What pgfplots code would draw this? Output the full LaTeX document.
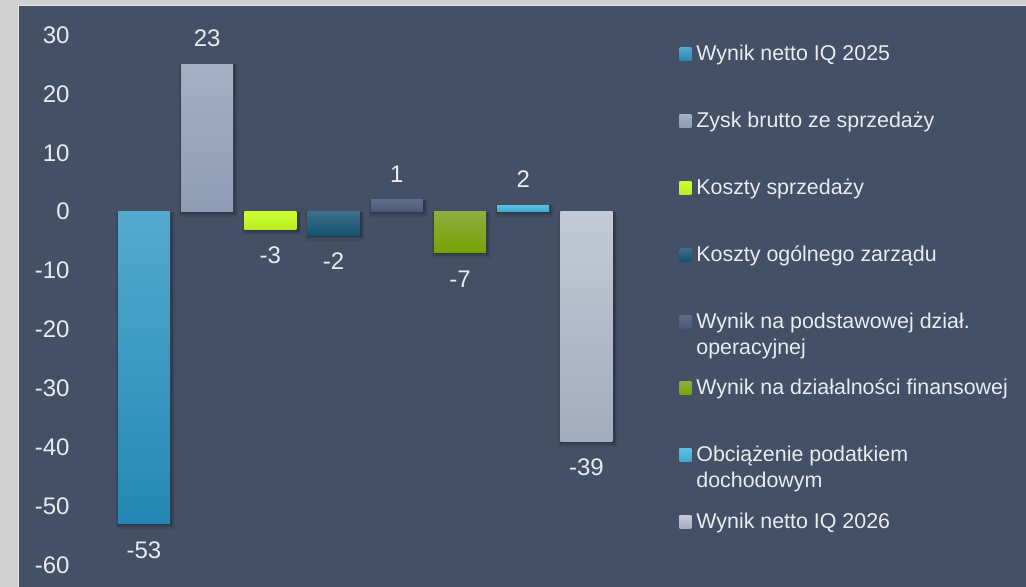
\documentclass[border=0pt]{standalone}
\usepackage{fontspec}
\setmainfont{Liberation Sans}
\usepackage{pgfplots}
\pgfplotsset{compat=1.18}

\definecolor{outergray}{RGB}{208,208,208}
\definecolor{innerline}{RGB}{232,232,232}
\definecolor{bg}{RGB}{67,80,102}
\definecolor{labelc}{RGB}{232,235,240}
\definecolor{cAt}{RGB}{85,169,207}\definecolor{cAb}{RGB}{35,136,180}
\definecolor{cBt}{RGB}{163,176,198}\definecolor{cBb}{RGB}{142,156,181}
\definecolor{cCt}{RGB}{204,255,51}\definecolor{cCb}{RGB}{187,238,34}
\definecolor{cDt}{RGB}{63,112,137}\definecolor{cDb}{RGB}{18,82,112}
\definecolor{cEt}{RGB}{94,110,137}\definecolor{cEb}{RGB}{74,88,117}
\definecolor{cFt}{RGB}{140,174,63}\definecolor{cFb}{RGB}{118,163,0}
\definecolor{cGt}{RGB}{94,192,224}\definecolor{cGb}{RGB}{58,168,208}
\definecolor{cHt}{RGB}{195,202,214}\definecolor{cHb}{RGB}{162,172,190}

\pgfplotsset{
  mybar/.style={ybar, bar width=26pt, bar shift=0pt, draw=none, forget plot,
    point meta=explicit symbolic, nodes near coords={\pgfplotspointmeta},
    every node near coord/.append style={font=\fontsize{12}{14}\selectfont, text=labelc, inner sep=0pt}},
  pos/.style={every node near coord/.append style={anchor=center, yshift=13pt}},
  neg/.style={every node near coord/.append style={anchor=center, yshift=-13pt}},
  legsq/.style={legend image code/.code={\fill[##1, draw=none] (0pt,0pt) rectangle (6pt,6.5pt);}},
  shadowlayer/.style n args={3}{ybar, bar shift=0.6pt, bar width=#1, fill=black, fill opacity=#3,
    draw=none, forget plot, y filter/.expression={y<=0 ? y-#2 : y}},
}
\newcommand\shadowbar[2]{%
  \addplot[shadowlayer={27pt}{0.25}{0.14}] coordinates {(#1,#2)};
  \addplot[shadowlayer={28pt}{0.55}{0.10}] coordinates {(#1,#2)};
  \addplot[shadowlayer={29.5pt}{0.9}{0.07}] coordinates {(#1,#2)};}

\begin{document}
\begin{tikzpicture}
\useasboundingbox (0pt,0pt) rectangle (513pt,-293.5pt);
\fill[outergray] (0pt,0pt) rectangle (513pt,-293.5pt);
\fill[innerline] (9pt,-2.75pt) rectangle (513pt,-293.5pt);
\fill[bg] (9.5pt,-3.25pt) rectangle (513pt,-293.5pt);
\begin{axis}[
  at={(37.5pt,-17.5pt)}, anchor=north west,
  scale only axis, width=475.5pt, height=265pt,
  xmin=-1.0918, xmax=13.956, ymin=-60, ymax=30,
  axis line style={draw=none}, tick style={draw=none},
  xtick=\empty,
  ytick={-60,-50,-40,-30,-20,-10,0,10,20,30},
  yticklabels={-60,-50,-40,-30,-20,-10,0,10,20,30},
  yticklabel style={font=\fontsize{12}{14}\selectfont, text=labelc, inner sep=0pt, xshift=-2.5pt},
  clip=false,
  legend style={at={(0.6351,0.98679)}, anchor=north west, draw=none, fill=none,
    inner sep=0pt, row sep=0pt, column sep=2.5pt,
    font=\fontsize{10.7}{13}\selectfont, text=labelc,
    cells={anchor=base west},
    nodes={inner sep=0pt, text height=9pt, text depth=24.45pt, anchor=base west, text=labelc}},
]
% soft shadows under the bars
\shadowbar{0}{-53}
\shadowbar{1}{25}\shadowbar{1}{0}
\shadowbar{2}{-3}
\shadowbar{3}{-4}
\shadowbar{4}{2}\shadowbar{4}{0}
\shadowbar{5}{-7}
\shadowbar{6}{1.1}\shadowbar{6}{0}
\shadowbar{7}{-39}
% bars
\addplot[mybar, neg, top color=cAt, bottom color=cAb] coordinates {(0,-53) [-53]};
\addplot[mybar, pos, top color=cBt, bottom color=cBb] coordinates {(1,25) [23]};
\addplot[mybar, neg, top color=cCt, bottom color=cCb] coordinates {(2,-3) [-3]};
\addplot[mybar, neg, top color=cDt, bottom color=cDb] coordinates {(3,-4) [-2]};
\addplot[mybar, pos, top color=cEt, bottom color=cEb] coordinates {(4,2) [1]};
\addplot[mybar, neg, top color=cFt, bottom color=cFb] coordinates {(5,-7) [-7]};
\addplot[mybar, pos, top color=cGt, bottom color=cGb] coordinates {(6,1.1) [2]};
\addplot[mybar, neg, top color=cHt, bottom color=cHb] coordinates {(7,-39) [-39]};

\addlegendimage{legsq, top color=cAt, bottom color=cAb}
\addlegendentry{Wynik netto IQ 2025}
\addlegendimage{legsq, top color=cBt, bottom color=cBb}
\addlegendentry{Zysk brutto ze sprzedaży}
\addlegendimage{legsq, top color=cCt, bottom color=cCb}
\addlegendentry{Koszty sprzedaży}
\addlegendimage{legsq, top color=cDt, bottom color=cDb}
\addlegendentry{Koszty ogólnego zarządu}
\addlegendimage{legsq, top color=cEt, bottom color=cEb}
\addlegendentry{\begin{tabular}[t]{@{}l@{}}Wynik na podstawowej dział.\\operacyjnej\end{tabular}}
\addlegendimage{legsq, top color=cFt, bottom color=cFb}
\addlegendentry{Wynik na działalności finansowej}
\addlegendimage{legsq, top color=cGt, bottom color=cGb}
\addlegendentry{\begin{tabular}[t]{@{}l@{}}Obciążenie podatkiem\\dochodowym\end{tabular}}
\addlegendimage{legsq, top color=cHt, bottom color=cHb}
\addlegendentry{Wynik netto IQ 2026}
\end{axis}
\end{tikzpicture}
\end{document}
